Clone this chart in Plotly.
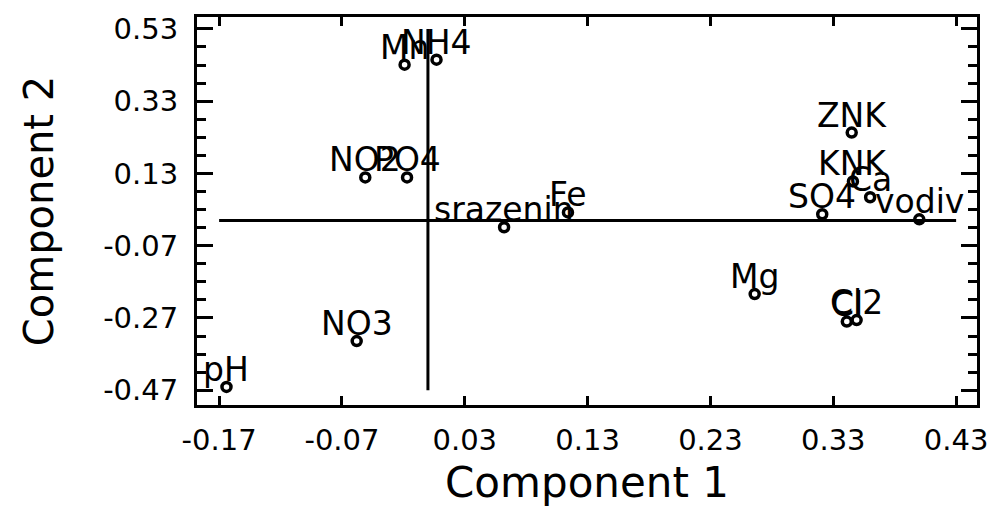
import plotly.graph_objects as go

# ---- data (loadings) ----
variables = ["Mn", "NH4", "NO2", "PO4", "srazenin", "Fe", "NO3", "pH",
             "ZNK", "KNK", "Ca", "SO4", "vodiv", "Mg", "Cl", "Cl2"]
component1 = [-0.019, 0.007, -0.051, -0.017, 0.062, 0.114, -0.058, -0.164,
              0.345, 0.346, 0.360, 0.321, 0.400, 0.266, 0.341, 0.349]
component2 = [0.431, 0.445, 0.119, 0.119, -0.019, 0.022, -0.334, -0.461,
              0.243, 0.108, 0.064, 0.017, 0.003, -0.204, -0.280, -0.276]

x_ticks = [-0.17, -0.07, 0.03, 0.13, 0.23, 0.33, 0.43]
y_ticks = [-0.47, -0.27, -0.07, 0.13, 0.33, 0.53]
x_tick_labels = ["-0.17", "-0.07", "0.03", "0.13", "0.23", "0.33", "0.43"]
y_tick_labels = ["-0.47", "-0.27", "-0.07", "0.13", "0.33", "0.53"]

# reference cross lines (origin axes)
hline_x = [-0.17, 0.43]
hline_y = [0.0, 0.0]
vline_x = [0.0, 0.0]
vline_y = [-0.47, 0.53]

FONT = "DejaVu Sans"

fig = go.Figure()
fig.add_trace(go.Scatter(x=hline_x, y=hline_y, mode="lines",
                         line=dict(color="black", width=3), hoverinfo="skip"))
fig.add_trace(go.Scatter(x=vline_x, y=vline_y, mode="lines",
                         line=dict(color="black", width=3), hoverinfo="skip"))
fig.add_trace(go.Scatter(
    x=component1, y=component2, mode="markers", text=variables,
    marker=dict(symbol="circle-open", size=9, color="black",
                line=dict(color="black", width=3.5)),
))

for name, xv, yv in zip(variables, component1, component2):
    fig.add_annotation(x=xv, y=yv, text=name, showarrow=False,
                       xanchor="center", yanchor="bottom", yshift=-4,
                       font=dict(family=FONT, size=33, color="black"))

axis_common = dict(
    showline=True, linecolor="black", linewidth=3, mirror="ticks",
    ticks="inside", tickcolor="black", tickwidth=3,
    showgrid=False, zeroline=False,
    tickfont=dict(family=FONT, size=29, color="black"),
)

fig.update_xaxes(
    range=[-0.188, 0.447], tickvals=x_ticks, ticktext=x_tick_labels,
    ticklen=9, ticklabelstandoff=7,
    title=dict(text="Component 1", font=dict(family=FONT, size=42, color="black"),
               standoff=12),
    **axis_common,
)
fig.update_yaxes(
    range=[-0.511, 0.563], tickvals=y_ticks, ticktext=y_tick_labels,
    ticklen=16, ticklabelstandoff=10,
    minor=dict(tickvals=[round(-0.47 + 0.05 * k, 2) for k in range(21)],
               ticks="inside", ticklen=9, tickwidth=3, tickcolor="black"),
    title=dict(text="Component 2", font=dict(family=FONT, size=40, color="black"),
               standoff=38),
    **axis_common,
)

fig.update_layout(
    width=1000, height=510,
    margin=dict(l=197, r=12, t=16, b=105),
    plot_bgcolor="white", paper_bgcolor="white",
    showlegend=False,
    font=dict(family=FONT, color="black"),
)

fig.write_html("out.html")
